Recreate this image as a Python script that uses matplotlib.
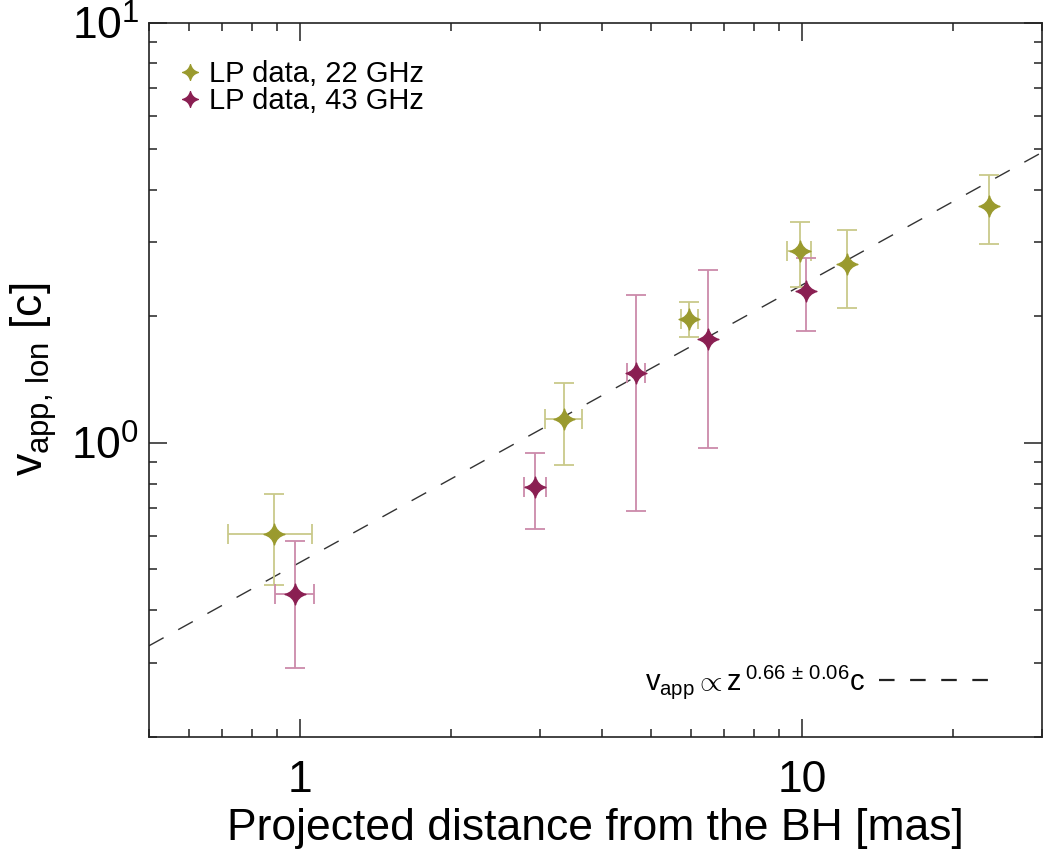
import numpy as np
import matplotlib
matplotlib.use("Agg")
import matplotlib.pyplot as plt
from matplotlib.path import Path
from matplotlib.lines import Line2D
from matplotlib.ticker import FixedLocator, FixedFormatter, LogLocator, NullFormatter

plt.rcParams['font.family'] = ['Liberation Sans', 'DejaVu Sans']
plt.rcParams['mathtext.fontset'] = 'custom'
plt.rcParams['mathtext.rm'] = 'Liberation Sans'
plt.rcParams['mathtext.it'] = 'Liberation Sans'
plt.rcParams['mathtext.bf'] = 'Liberation Sans:bold'

# LP component speeds, 22 GHz
z22 = [0.887, 3.36, 5.96, 9.88, 12.28, 23.57]
z22_lo = [0.718, 3.08, 5.74, 9.32, 12.28, 23.57]
z22_hi = [1.056, 3.65, 6.21, 10.42, 12.28, 23.57]
v22 = [0.606, 1.139, 1.974, 2.86, 2.66, 3.66]
v22_lo = [0.458, 0.888, 1.788, 2.35, 2.10, 2.98]
v22_hi = [0.755, 1.39, 2.16, 3.35, 3.21, 4.33]

# LP component speeds, 43 GHz
z43 = [0.976, 2.935, 4.67, 6.49, 10.18]
z43_lo = [0.891, 2.79, 4.47, 6.49, 10.18]
z43_hi = [1.065, 3.09, 4.87, 6.49, 10.18]
v43 = [0.436, 0.784, 1.468, 1.768, 2.30]
v43_lo = [0.291, 0.623, 0.689, 0.97, 1.845]
v43_hi = [0.584, 0.947, 2.247, 2.58, 2.75]

# power-law fit v = A z^k
fit_norm = 0.52
fit_index = 0.66

# four-pointed star symbol
c = 0.2
star = Path([(0, 1), (c, c), (1, 0), (c, -c), (0, -1), (-c, -c), (-1, 0), (-c, c), (0, 1), (0, 1)],
            [Path.MOVETO, Path.CURVE3, Path.CURVE3, Path.CURVE3, Path.CURVE3,
             Path.CURVE3, Path.CURVE3, Path.CURVE3, Path.CURVE3, Path.CLOSEPOLY])

col22, bar22 = '#9a9a2e', '#c9c98a'
col43, bar43 = '#8a1f52', '#cc8aaa'


def errs(v, lo, hi):
    v, lo, hi = np.array(v), np.array(lo), np.array(hi)
    return [v - lo, hi - v]


fig = plt.figure(figsize=(10.48, 8.58), dpi=100)
ax = fig.add_axes([0.1422, 0.1414, 0.8518, 0.8322])
ax.set_xscale('log')
ax.set_yscale('log')

zf = np.logspace(np.log10(0.5), np.log10(30), 100)
ax.plot(zf, fit_norm * zf ** fit_index, color='#333333', lw=1.0, dashes=(12, 12), zorder=1)

ax.errorbar(z22, v22, xerr=errs(z22, z22_lo, z22_hi), yerr=errs(v22, v22_lo, v22_hi),
            fmt='none', ecolor=bar22, elinewidth=1.3, capsize=7, capthick=1.3, zorder=2)
ax.errorbar(z43, v43, xerr=errs(z43, z43_lo, z43_hi), yerr=errs(v43, v43_lo, v43_hi),
            fmt='none', ecolor=bar43, elinewidth=1.3, capsize=7, capthick=1.3, zorder=2)
p22, = ax.plot(z22, v22, ls='none', marker=star, ms=15, color=col22, mec=col22, zorder=3)
p43, = ax.plot(z43, v43, ls='none', marker=star, ms=15, color=col43, mec=col43, zorder=3)

ax.set_xlim(0.5, 30)
ax.set_ylim(0.2, 10)

ax.xaxis.set_major_locator(FixedLocator([1, 10]))
ax.xaxis.set_major_formatter(FixedFormatter(['1', '10']))
ax.xaxis.set_minor_locator(LogLocator(base=10, subs=np.arange(2, 10)))
ax.xaxis.set_minor_formatter(NullFormatter())
ax.yaxis.set_minor_locator(LogLocator(base=10, subs=np.arange(2, 10)))
ax.yaxis.set_minor_formatter(NullFormatter())

ax.tick_params(which='both', direction='in', top=True, right=True, color='#222222',
               labelcolor='black', width=1.1)
ax.tick_params(which='major', length=13, labelsize=32)
ax.tick_params(which='minor', length=6)
ax.tick_params(axis='x', which='major', pad=17)
ax.tick_params(axis='y', which='major', pad=7)
for s in ax.spines.values():
    s.set_linewidth(1.2)
    s.set_color('#222222')

ax.set_xlabel('Projected distance from the BH [mas]', fontsize=32, labelpad=5)
ax.set_ylabel(r'$v_{\rm app,\,lon}$ [c]', fontsize=32, labelpad=9)

leg1 = ax.legend([p22, p43], ['LP data, 22 GHz', 'LP data, 43 GHz'], loc='upper left',
                 bbox_to_anchor=(0.0202, 0.9636), borderaxespad=0,
                 frameon=False, fontsize=21, labelspacing=-0.05, handlelength=0.8,
                 handletextpad=0.25, markerscale=0.75)
ax.add_artist(leg1)
fit_handle = Line2D([], [], color='#222222', lw=1.6, dashes=(7, 7))
ax.legend([fit_handle], [r'$v_{\rm app} \propto z^{\,0.66\,\pm\,0.06}$c'], loc='lower right',
          bbox_to_anchor=(0.9555, 0.0336), frameon=False, fontsize=21, markerfirst=False,
          handlelength=3.8, handletextpad=0.5, borderaxespad=0)

fig.savefig('out.png', dpi=100)
